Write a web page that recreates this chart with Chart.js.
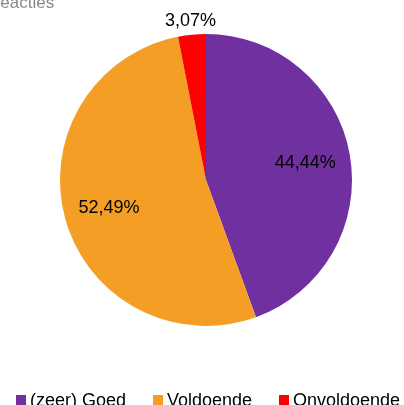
<!DOCTYPE html>
<html>
<head>
<meta charset="utf-8">
<script src="https://cdn.jsdelivr.net/npm/chart.js@4"></script>
<style>
  html, body { margin: 0; padding: 0; background: #fff; }
  #wrap { width: 404px; height: 405px; }
</style>
</head>
<body>
<div id="wrap"><canvas id="chart" width="404" height="405"></canvas></div>
<script>
const title = "Reacties";
const categories = ["(zeer) Goed", "Voldoende", "Onvoldoende"];
const values = [44.44, 52.49, 3.07];
const colors = ["#7030A0", "#F59E25", "#FF0000"];

const fmt = v => v.toFixed(2).replace(".", ",") + "%";

const extras = {
  id: "extras",
  afterDraw(chart) {
    const { ctx } = chart;
    const meta = chart.getDatasetMeta(0);
    ctx.save();
    ctx.font = "18px 'Liberation Sans', Arial, sans-serif";
    ctx.fillStyle = "#000";
    ctx.textAlign = "center";
    ctx.textBaseline = "middle";
    meta.data.forEach((arc, i) => {
      const mid = (arc.startAngle + arc.endAngle) / 2;
      const f = values[i] < 5 ? 1.1 : 0.69;
      const r = arc.outerRadius * f;
      ctx.fillText(fmt(values[i]), arc.x + Math.cos(mid) * r, arc.y + Math.sin(mid) * r + 1);
    });

    // title (cut off at the top-left like the original)
    ctx.font = "17px 'Liberation Sans', Arial, sans-serif";
    ctx.fillStyle = "#888";
    ctx.textAlign = "left";
    ctx.textBaseline = "alphabetic";
    ctx.fillText(title, -12, 8);

    // legend
    ctx.font = "18px 'Liberation Sans', Arial, sans-serif";
    ctx.textBaseline = "middle";
    const starts = [16, 153, 279];
    categories.forEach((c, i) => {
      ctx.fillStyle = colors[i];
      ctx.fillRect(starts[i], 395, 10, 10);
      ctx.fillStyle = "#000";
      ctx.fillText(c, starts[i] + 14, 401);
    });
    ctx.restore();
  }
};

new Chart(document.getElementById("chart"), {
  type: "pie",
  data: {
    labels: categories,
    datasets: [{
      data: values,
      backgroundColor: colors,
      borderWidth: 0
    }]
  },
  options: {
    responsive: false,
    animation: false,
    layout: { padding: { top: 34, bottom: 79, left: 60, right: 52 } },
    plugins: {
      legend: { display: false },
      tooltip: { enabled: false }
    }
  },
  plugins: [extras]
});
</script>
</body>
</html>
